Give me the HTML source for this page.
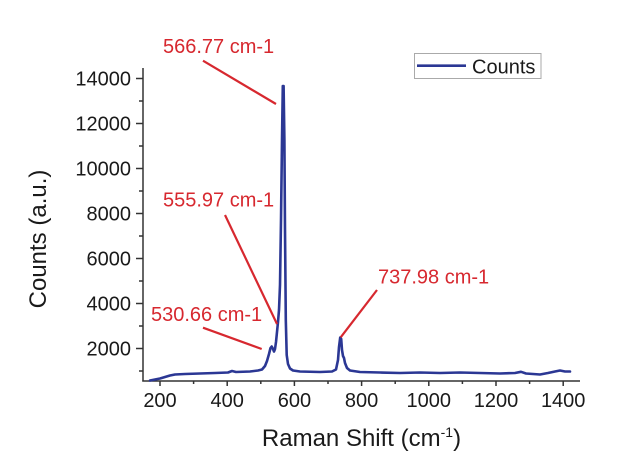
<!DOCTYPE html>
<html>
<head>
<meta charset="utf-8">
<style>
  html,body{margin:0;padding:0;background:#fff;}
  svg{display:block;}
  text{font-family:"Liberation Sans",Arial,sans-serif;}
</style>
</head>
<body>
<svg width="626" height="460" viewBox="0 0 626 460" xmlns="http://www.w3.org/2000/svg">
  <rect width="626" height="460" fill="#fff"/>

  <!-- axes -->
  <g stroke="#333" stroke-width="1.5" fill="none">
    <line x1="143" y1="68" x2="143" y2="381.5"/>
    <line x1="142.3" y1="381" x2="580" y2="381"/>
    <!-- y major ticks -->
    <line x1="136" y1="78.5" x2="143" y2="78.5"/>
    <line x1="136" y1="123.5" x2="143" y2="123.5"/>
    <line x1="136" y1="168.5" x2="143" y2="168.5"/>
    <line x1="136" y1="213.5" x2="143" y2="213.5"/>
    <line x1="136" y1="258.5" x2="143" y2="258.5"/>
    <line x1="136" y1="303.5" x2="143" y2="303.5"/>
    <line x1="136" y1="348.5" x2="143" y2="348.5"/>
    <!-- y minor ticks -->
    <line x1="139" y1="101" x2="143" y2="101"/>
    <line x1="139" y1="146" x2="143" y2="146"/>
    <line x1="139" y1="191" x2="143" y2="191"/>
    <line x1="139" y1="236" x2="143" y2="236"/>
    <line x1="139" y1="281" x2="143" y2="281"/>
    <line x1="139" y1="326" x2="143" y2="326"/>
    <line x1="139" y1="371" x2="143" y2="371"/>
    <!-- x major ticks -->
    <line x1="160" y1="381" x2="160" y2="386"/>
    <line x1="227.2" y1="381" x2="227.2" y2="386"/>
    <line x1="294.4" y1="381" x2="294.4" y2="386"/>
    <line x1="361.6" y1="381" x2="361.6" y2="386"/>
    <line x1="428.8" y1="381" x2="428.8" y2="386"/>
    <line x1="496" y1="381" x2="496" y2="386"/>
    <line x1="563.2" y1="381" x2="563.2" y2="386"/>
    <!-- x minor ticks -->
    <line x1="193.6" y1="381" x2="193.6" y2="384"/>
    <line x1="260.8" y1="381" x2="260.8" y2="384"/>
    <line x1="328" y1="381" x2="328" y2="384"/>
    <line x1="395.2" y1="381" x2="395.2" y2="384"/>
    <line x1="462.4" y1="381" x2="462.4" y2="384"/>
    <line x1="529.6" y1="381" x2="529.6" y2="384"/>
  </g>

  <!-- y tick labels -->
  <g font-size="20" fill="#1a1a1a" text-anchor="end">
    <text x="131" y="85.5">14000</text>
    <text x="131" y="130.5">12000</text>
    <text x="131" y="175.5">10000</text>
    <text x="131" y="220.5">8000</text>
    <text x="131" y="265.5">6000</text>
    <text x="131" y="310.5">4000</text>
    <text x="131" y="355.5">2000</text>
  </g>

  <!-- x tick labels -->
  <g font-size="20" fill="#1a1a1a" text-anchor="middle">
    <text x="160" y="407">200</text>
    <text x="227.2" y="407">400</text>
    <text x="294.4" y="407">600</text>
    <text x="361.6" y="407">800</text>
    <text x="428.8" y="407">1000</text>
    <text x="496" y="407">1200</text>
    <text x="563.2" y="407">1400</text>
  </g>

  <!-- axis titles -->
  <text x="361.5" y="446" font-size="24" fill="#1a1a1a" text-anchor="middle">Raman Shift (cm<tspan font-size="14" dy="-9">-1</tspan><tspan dy="9">)</tspan></text>
  <text transform="translate(46,239) rotate(-90)" font-size="24" fill="#1a1a1a" text-anchor="middle">Counts (a.u.)</text>

  <!-- data -->
  <polyline fill="none" stroke="#2b3794" stroke-width="2.6" stroke-linejoin="round" stroke-linecap="round"
    points="150,380.5 155,379.5 160,378.5 165,377 170,375.5 175,374.5 185,374 200,373.5 215,373 228,372.5 232,371 236,372 250,371.5 258,370.5 262,369.5 265,366 267,361 269,354 270.5,348 271.7,346.5 273,349 274,351.5 275,349 276,342 277,332 278,322 279,310 280,285 281,220 282,140 282.8,86 283.6,86 284.4,140 285,230 285.8,320 286.7,355 288,364 290,368.5 293,370.5 300,371.5 320,372 332,371.5 336,369.5 338,360 339,347 340.2,337.5 341.2,339 342,350 343,356 344,358 345,363 347,368 350,370.5 360,372 380,372.5 400,373 420,372.5 440,373 460,372.5 480,373 500,373.5 515,373 521,371.8 526,373.5 540,374.5 548,373 555,371.5 560,370.5 565,371.5 570,371.5"/>

  <!-- annotations -->
  <g stroke="#d7282f" stroke-width="2.2" fill="none">
    <line x1="203" y1="60.7" x2="276" y2="104"/>
    <line x1="225" y1="215" x2="277" y2="324"/>
    <line x1="203" y1="327.7" x2="261.7" y2="349"/>
    <line x1="377" y1="290" x2="340.7" y2="337.3"/>
  </g>
  <g font-size="20" fill="#d7282f">
    <text x="163" y="53">566.77 cm-1</text>
    <text x="163" y="206.7">555.97 cm-1</text>
    <text x="151" y="321">530.66 cm-1</text>
    <text x="378" y="283.3">737.98 cm-1</text>
  </g>

  <!-- legend -->
  <rect x="414.5" y="53.5" width="126.5" height="25" fill="#fff" stroke="#aaa" stroke-width="1"/>
  <line x1="417" y1="65.7" x2="466" y2="65.7" stroke="#2b3794" stroke-width="2.6"/>
  <text x="472" y="73.3" font-size="20" fill="#1a1a1a">Counts</text>
</svg>
</body>
</html>
